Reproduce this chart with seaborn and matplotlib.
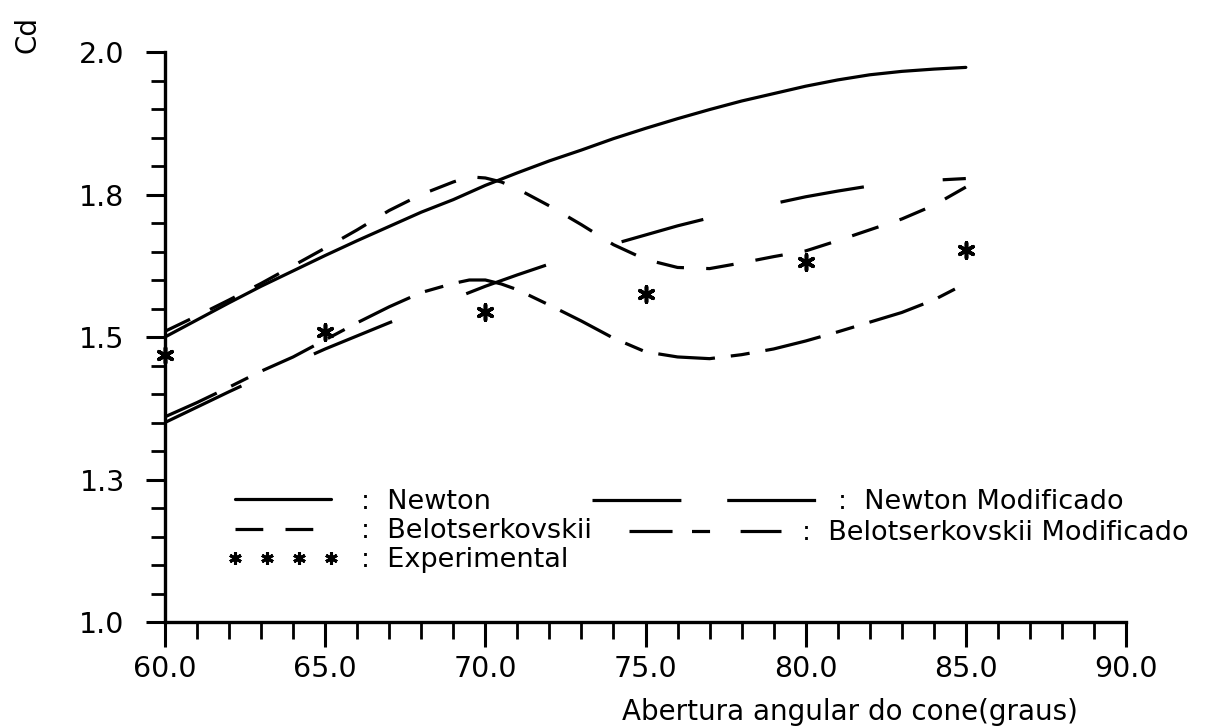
import numpy as np
import pandas as pd
import seaborn as sns
import matplotlib.pyplot as plt
from matplotlib.lines import Line2D

# cone opening angle (degrees) for the two Newton curves
angles = [60, 61, 62, 63, 64, 65, 66, 67, 68, 69, 70, 71, 72,
          73, 74, 75, 76, 77, 78, 79, 80, 81, 82, 83, 84, 85]
newton = [1.500, 1.530, 1.560, 1.589, 1.616, 1.643, 1.669, 1.694, 1.719,
          1.741, 1.766, 1.788, 1.809, 1.828, 1.848, 1.866, 1.883, 1.899,
          1.914, 1.927, 1.940, 1.951, 1.960, 1.966, 1.970, 1.973]
newton_mod = [1.350, 1.377, 1.404, 1.430, 1.454, 1.479, 1.502, 1.525, 1.547,
              1.567, 1.589, 1.609, 1.628, 1.645, 1.663, 1.679, 1.695, 1.709,
              1.723, 1.734, 1.746, 1.756, 1.765, 1.771, 1.775, 1.778]

# Belotserkovskii curves (extra points around the peak)
belot_angles = [60, 61, 62, 63, 64, 65, 66, 67, 68, 69, 69.5, 70, 70.5, 71,
                72, 73, 74, 75, 76, 77, 78, 79, 80, 81, 82, 83, 84, 85]
belot = [1.510, 1.537, 1.565, 1.594, 1.625, 1.656, 1.688, 1.722, 1.750,
         1.772, 1.781, 1.779, 1.772, 1.760, 1.730, 1.697, 1.662, 1.636,
         1.622, 1.620, 1.630, 1.641, 1.651, 1.669, 1.688, 1.707, 1.731, 1.763]
belot_mod = [1.360, 1.385, 1.412, 1.440, 1.465, 1.495, 1.525, 1.553, 1.578,
             1.594, 1.600, 1.600, 1.593, 1.583, 1.556, 1.528, 1.498, 1.474,
             1.465, 1.462, 1.469, 1.479, 1.493, 1.509, 1.526, 1.543, 1.565, 1.594]

# experimental points
exp_angles = [60, 65, 70, 75, 80, 85]
exp_cd = [1.468, 1.508, 1.544, 1.575, 1.632, 1.653]

x_ticks = [60, 65, 70, 75, 80, 85, 90]
x_labels = ["60.0", "65.0", "70.0", "75.0", "80.0", "85.0", "90.0"]
y_ticks = [1.0, 1.25, 1.5, 1.75, 2.0]
y_labels = ["1.0", "1.3", "1.5", "1.8", "2.0"]

sns.set_style("ticks")
plt.rcParams['font.family'] = ['DejaVu Sans']
plt.rcParams['lines.scale_dashes'] = False
for key in ['text.color', 'axes.labelcolor', 'xtick.color', 'ytick.color',
            'axes.edgecolor']:
    plt.rcParams[key] = 'black'

W, H = 1213, 726
fig = plt.figure(figsize=(W / 100, H / 100), dpi=100)
ax = fig.add_axes([165 / W, 104 / H, 961 / W, 570 / H])

LW = 2.3
ls_belot = (0, (20, 16))
ls_nmod = (0, (61, 57))
ls_bmod = (0, (41, 11.5, 13.7, 11.5))

sns.lineplot(x=angles, y=newton, ax=ax, color='k', lw=LW, legend=False)
sns.lineplot(x=angles, y=newton_mod, ax=ax, color='k', lw=LW,
             linestyle=ls_nmod, legend=False)
sns.lineplot(x=belot_angles, y=belot, ax=ax, color='k', lw=LW,
             linestyle=ls_belot, legend=False)
sns.lineplot(x=belot_angles, y=belot_mod, ax=ax, color='k', lw=LW,
             linestyle=ls_bmod, legend=False)
sns.scatterplot(x=exp_angles, y=exp_cd, ax=ax, marker=(6, 2, 0), s=120,
                color='k', edgecolor='k', linewidth=2.6, legend=False,
                zorder=5, clip_on=False)

ax.set_xlim(60, 90)
ax.set_ylim(1.0, 2.0)
ax.set_xticks(x_ticks)
ax.set_xticklabels(x_labels, fontsize=20.5)
ax.set_yticks(y_ticks)
ax.set_yticklabels(y_labels, fontsize=20.5)
ax.set_xticks(np.arange(60, 91, 1), minor=True)
ax.set_yticks(np.arange(1.0, 2.001, 0.05), minor=True)

sns.despine(ax=ax)
for s in ['left', 'bottom']:
    ax.spines[s].set_linewidth(2.4)
ax.tick_params(axis='x', which='major', length=18, width=2.2, pad=6)
ax.tick_params(axis='x', which='minor', length=12, width=2.0)
ax.tick_params(axis='y', which='major', length=14, width=2.2, pad=15)
ax.tick_params(axis='y', which='minor', length=10, width=2.0)

ax.set_xlabel("Abertura angular do cone(graus)", fontsize=20)
ax.xaxis.set_label_coords(0.713, -0.133)
ax.set_ylabel("Cd", fontsize=20)
ax.yaxis.set_label_coords(-0.128, 1.03)

# legend built from proxy handles, in three blocks like the original
fs = 19.5
common = dict(frameon=False, fontsize=fs, borderpad=0, borderaxespad=0,
              handletextpad=0.8, labelspacing=0.12)
h1 = [Line2D([], [], color='k', lw=LW),
      Line2D([], [], color='k', lw=LW, linestyle=ls_belot),
      Line2D([], [], color='k', lw=0, marker=(6, 2, 0), markersize=9,
             markeredgewidth=2.2)]
leg1 = ax.legend(h1, [":  Newton", ":  Belotserkovskii", ":  Experimental"],
                 loc='center left', bbox_to_anchor=(227 / W, 1 - 531 / H),
                 bbox_transform=fig.transFigure, handlelength=4.13,
                 numpoints=4, **common)
ax.add_artist(leg1)
h2 = [Line2D([], [], color='k', lw=LW, linestyle=(0, (64, 33)))]
leg2 = ax.legend(h2, [":  Newton Modificado"], loc='center left',
                 bbox_to_anchor=(592 / W, 1 - 502 / H),
                 bbox_transform=fig.transFigure, handlelength=8.27, **common)
ax.add_artist(leg2)
h3 = [Line2D([], [], color='k', lw=LW, linestyle=(0, (31, 14, 13, 22)))]
ax.legend(h3, [":  Belotserkovskii Modificado"], loc='center left',
          bbox_to_anchor=(629 / W, 1 - 533 / H),
          bbox_transform=fig.transFigure, handlelength=5.6, **common)

fig.savefig("out.png", dpi=100)
